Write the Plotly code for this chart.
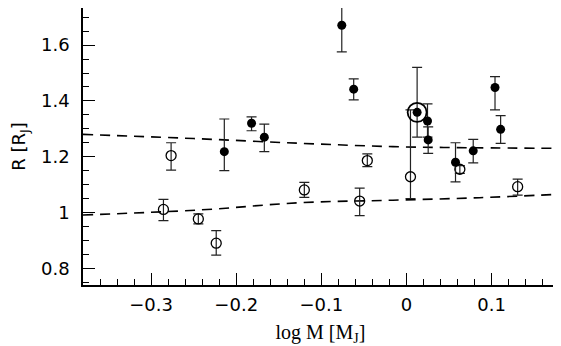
import plotly.graph_objects as go

# filled points (log M, R) with asymmetric errors
full_logm = [-0.214, -0.182, -0.167, -0.076, -0.062, 0.0125, 0.0247, 0.0255, 0.0576, 0.0784, 0.104, 0.1106]
full_r = [1.218, 1.320, 1.270, 1.671, 1.442, 1.359, 1.328, 1.260, 1.180, 1.221, 1.448, 1.298]
full_up = [0.117, 0.023, 0.047, 0.10, 0.037, 0.161, 0.061, 0.047, 0.070, 0.041, 0.039, 0.049]
full_dn = [0.068, 0.027, 0.052, 0.095, 0.038, 0.089, 0.058, 0.048, 0.070, 0.043, 0.080, 0.050]

# open points
open_logm = [-0.2855, -0.2765, -0.2445, -0.2235, -0.120, -0.055, -0.046, 0.0047, 0.0627, 0.1306]
open_r = [1.011, 1.204, 0.977, 0.890, 1.081, 1.041, 1.186, 1.128, 1.155, 1.0925]
open_up = [0.036, 0.046, 0.018, 0.045, 0.027, 0.046, 0.024, 0.240, 0.013, 0.027]
open_dn = [0.040, 0.052, 0.018, 0.043, 0.027, 0.052, 0.022, 0.078, 0.015, 0.030]

# highlighted (ringed) planet
ring_logm = [0.0125]
ring_r = [1.359]

# dashed model curves
upper_logm = [-0.38, -0.25, -0.125, -0.016, 0.08, 0.178]
upper_r = [1.280, 1.265, 1.248, 1.236, 1.232, 1.230]
lower_logm = [-0.38, -0.243, -0.125, -0.016, 0.086, 0.178]
lower_r = [0.991, 1.009, 1.035, 1.044, 1.053, 1.065]

fig = go.Figure()

# model curves
for xs, ys in [(upper_logm, upper_r), (lower_logm, lower_r)]:
    fig.add_trace(go.Scatter(
        x=xs, y=ys, mode='lines',
        line=dict(color='black', width=1.6, dash='10px,7px', shape='spline'),
        showlegend=False, hoverinfo='skip'
    ))

err_style = dict(type='data', symmetric=False, color='#222', thickness=1.2, width=5)

fig.add_trace(go.Scatter(
    x=open_logm, y=open_r, mode='markers',
    marker=dict(symbol='circle-open', size=10, color='black', line=dict(width=1.3)),
    error_y=dict(array=open_up, arrayminus=open_dn, **err_style),
    showlegend=False
))

fig.add_trace(go.Scatter(
    x=full_logm, y=full_r, mode='markers',
    marker=dict(symbol='circle', size=9, color='black'),
    error_y=dict(array=full_up, arrayminus=full_dn, **err_style),
    showlegend=False
))

fig.add_trace(go.Scatter(
    x=ring_logm, y=ring_r, mode='markers',
    marker=dict(symbol='circle-open', size=19, color='black', line=dict(width=1.8)),
    showlegend=False
))

axis_common = dict(
    showline=True, linecolor='black', linewidth=1.5, mirror=True,
    ticks='inside', ticklen=12, tickwidth=1.2, tickcolor='black',
    showgrid=False, zeroline=False, automargin=False,
    tickfont=dict(family='DejaVu Sans', size=18, color='black'),
)

fig.update_xaxes(
    range=[-0.38, 0.178], tick0=0, dtick=0.1,
    minor=dict(ticks='inside', dtick=0.02, tick0=0, ticklen=6, tickwidth=1.2, tickcolor='black'),
    title=dict(text='log M [M<sub>J</sub>]', standoff=22,
               font=dict(family='Liberation Serif', size=20, color='black')),
    ticklabelstandoff=3,
    **axis_common
)
# the page body adds an 8px offset, so the top edge sits a bit lower
fig.update_yaxes(
    range=[0.74, 1.733], tick0=0, dtick=0.2,
    minor=dict(ticks='inside', dtick=0.05, tick0=0, ticklen=6, tickwidth=1.2, tickcolor='black'),
    title=dict(text='R [R<sub>J</sub>]', standoff=22,
               font=dict(family='DejaVu Sans', size=18, color='black')),
    ticklabelstandoff=8,
    **axis_common
)

fig.update_layout(
    width=553, height=338,
    margin=dict(l=75, r=3, t=0, b=61),
    plot_bgcolor='white', paper_bgcolor='white',
    showlegend=False,
)

fig.write_html("out.html")
